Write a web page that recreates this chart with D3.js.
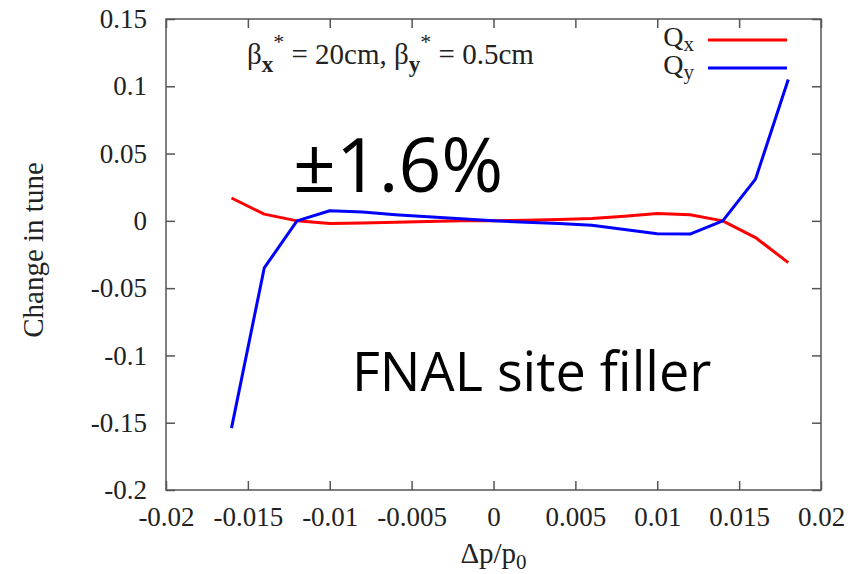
<!DOCTYPE html>
<html>
<head>
<meta charset="utf-8">
<script src="https://cdn.jsdelivr.net/npm/d3@7"></script>
<style>
  body { margin: 0; background: #fff; }
  .axis text { font-family: "Liberation Serif", "DejaVu Serif", serif; font-size: 27px; fill: #222; }
  .axis line { stroke: #555; stroke-width: 1.5; }
  .axis path { display: none; }
</style>
</head>
<body>
<svg class="chart"></svg>
<script>
// momentum deviation (x) and tune shifts
var dpp = [-0.016, -0.014, -0.012, -0.010, -0.008, -0.006, -0.004, -0.002, 0,
           0.002, 0.004, 0.006, 0.008, 0.010, 0.012, 0.014, 0.016, 0.018];
var qx = [0.017, 0.005, 0, -0.002, -0.0015, -0.001, -0.0005, 0, 0,
          0.0005, 0.001, 0.0017, 0.0035, 0.0055, 0.0045, 0, -0.0124, -0.031];
var qy = [-0.154, -0.035, 0, 0.0075, 0.0065, 0.0045, 0.003, 0.0015, 0,
          -0.001, -0.002, -0.0033, -0.0065, -0.0095, -0.0098, 0, 0.031, 0.105];
var xTicks = [-0.02, -0.015, -0.01, -0.005, 0, 0.005, 0.01, 0.015, 0.02];
var yTicks = [-0.2, -0.15, -0.1, -0.05, 0, 0.05, 0.1, 0.15];
var seriesNames = ["Q", "Q"];
var seriesSubs = ["x", "y"];
var seriesColors = ["#ff0000", "#0000ff"];

(function () {
  var W = 862, H = 574;
  var left = 166, right = 821, top = 19, bottom = 490;
  var serif = "Liberation Serif, serif";

  var svg = d3.select(".chart").attr("width", W).attr("height", H);

  var xscale = d3.scaleLinear().domain([-0.02, 0.02]).range([left, right]);
  var yscale = d3.scaleLinear().domain([-0.2, 0.15]).range([bottom, top]);
  var fmt = function(d) { return String(d); };

  // axes with inward ticks
  svg.append("g").attr("class", "axis")
    .attr("transform", "translate(0," + bottom + ")")
    .call(d3.axisBottom(xscale).tickValues(xTicks).tickFormat(fmt)
      .tickSizeInner(-9).tickSizeOuter(0).tickPadding(17));
  svg.append("g").attr("class", "axis")
    .attr("transform", "translate(0," + top + ")")
    .call(d3.axisTop(xscale).tickValues(xTicks).tickFormat("")
      .tickSizeInner(-9).tickSizeOuter(0));
  svg.append("g").attr("class", "axis")
    .attr("transform", "translate(" + left + ",0)")
    .call(d3.axisLeft(yscale).tickValues(yTicks).tickFormat(fmt)
      .tickSizeInner(-9).tickSizeOuter(0).tickPadding(19));
  svg.append("g").attr("class", "axis")
    .attr("transform", "translate(" + right + ",0)")
    .call(d3.axisRight(yscale).tickValues(yTicks).tickFormat("")
      .tickSizeInner(-9).tickSizeOuter(0));

  svg.append("rect")
    .attr("x", left).attr("y", top)
    .attr("width", right - left).attr("height", bottom - top)
    .attr("fill", "none").attr("stroke", "#555").attr("stroke-width", 1.5);

  // axis titles
  svg.append("text")
    .attr("transform", "translate(43," + 250 + ") rotate(-90)")
    .attr("text-anchor", "middle")
    .style("font-family", serif).style("font-size", "29px").style("fill", "#222")
    .text("Change in tune");

  var xt = svg.append("text")
    .attr("x", (left + right) / 2).attr("y", 563)
    .attr("text-anchor", "middle")
    .style("font-family", serif).style("font-size", "29px").style("fill", "#222");
  xt.append("tspan").text("\u0394p/p");
  xt.append("tspan").attr("dy", 6).style("font-size", "21px").text("0");

  // lines
  var line = d3.line()
    .x(function(d, i) { return xscale(dpp[i]); })
    .y(function(d) { return yscale(d); });

  [qx, qy].forEach(function(s, k) {
    svg.append("path")
      .attr("d", line(s))
      .attr("fill", "none")
      .attr("stroke", seriesColors[k])
      .attr("stroke-width", 3)
      .attr("stroke-linejoin", "round");
  });

  // legend
  var legY = [40, 68];
  seriesNames.forEach(function(n, k) {
    var t = svg.append("text")
      .attr("x", 694).attr("y", legY[k] + 6)
      .attr("text-anchor", "end")
      .style("font-family", serif).style("font-size", "28px").style("fill", "#222");
    t.append("tspan").text(n);
    t.append("tspan").attr("dy", 5).style("font-size", "21px").text(seriesSubs[k]);
    svg.append("line")
      .attr("x1", 708).attr("x2", 787)
      .attr("y1", legY[k]).attr("y2", legY[k])
      .attr("stroke", seriesColors[k]).attr("stroke-width", 3);
  });

  // beta annotation
  var bt = svg.append("text")
    .attr("x", 247).attr("y", 64)
    .style("font-family", serif).style("font-size", "29px").style("fill", "#222");
  bt.append("tspan").text("\u03b2");
  bt.append("tspan").attr("dy", 8).style("font-size", "23px").style("font-weight", "bold").text("x");
  bt.append("tspan").attr("dy", -23).style("font-size", "22px").text("*");
  bt.append("tspan").attr("dy", 15).text(" = 20cm, \u03b2");
  bt.append("tspan").attr("dy", 8).style("font-size", "23px").style("font-weight", "bold").text("y");
  bt.append("tspan").attr("dy", -23).style("font-size", "22px").text("*");
  bt.append("tspan").attr("dy", 15).text(" = 0.5cm");

  // overlay texts
  svg.append("text")
    .attr("x", 293).attr("y", 192)
    .style("font-family", "Open Sans, sans-serif").style("font-size", "75px").style("fill", "#000")
    .text("\u00b11.6%");
  svg.append("text")
    .attr("x", 352).attr("y", 391)
    .style("font-family", "Open Sans, sans-serif").style("font-size", "54px").style("fill", "#000")
    .text("FNAL site filler");
})();
</script>
</body>
</html>
